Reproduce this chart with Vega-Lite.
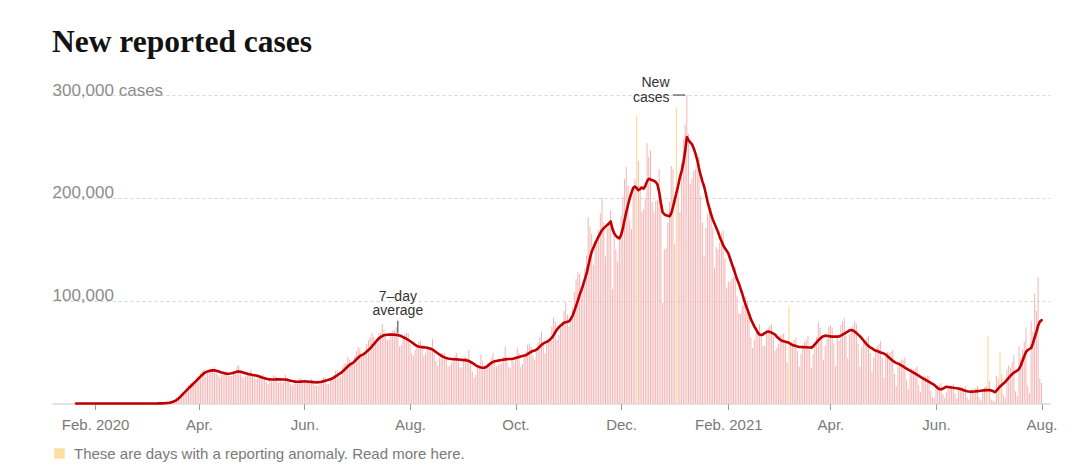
{
"$schema":"https://vega.github.io/schema/vega-lite/v6.json",
"width":998,"height":308.5,
"autosize":{"type":"none"},
"padding":{"left":52,"top":95,"right":30,"bottom":72.5},
"background":"white",
"config":{"font":"Liberation Sans","view":{"stroke":null}},
"title":{"text":"New reported cases","anchor":"start","frame":"group","font":"Liberation Serif","fontSize":31.5,"fontWeight":"bold","color":"#121212","baseline":"alphabetic","offset":8,"dy":15},
"datasets":{"days":[
{"date":"2020-01-21","cases":1,"avg":0},{"date":"2020-01-22","cases":0,"avg":0},{"date":"2020-01-23","cases":0,"avg":0},{"date":"2020-01-24","cases":1,"avg":0},{"date":"2020-01-25","cases":1,"avg":0},{"date":"2020-01-26","cases":3,"avg":1},{"date":"2020-01-27","cases":0,"avg":1},{"date":"2020-01-28","cases":0,"avg":1},{"date":"2020-01-29","cases":0,"avg":1},{"date":"2020-01-30","cases":1,"avg":1},{"date":"2020-01-31","cases":1,"avg":1},
{"date":"2020-02-01","cases":1,"avg":1},{"date":"2020-02-02","cases":2,"avg":1},{"date":"2020-02-03","cases":1,"avg":1},{"date":"2020-02-04","cases":0,"avg":1},{"date":"2020-02-05","cases":1,"avg":1},{"date":"2020-02-06","cases":0,"avg":1},{"date":"2020-02-07","cases":0,"avg":0},{"date":"2020-02-08","cases":0,"avg":0},{"date":"2020-02-09","cases":0,"avg":0},{"date":"2020-02-10","cases":1,"avg":0},{"date":"2020-02-11","cases":1,"avg":0},{"date":"2020-02-12","cases":0,"avg":0},{"date":"2020-02-13","cases":1,"avg":0},{"date":"2020-02-14","cases":0,"avg":0},{"date":"2020-02-15","cases":0,"avg":0},{"date":"2020-02-16","cases":0,"avg":0},{"date":"2020-02-17","cases":0,"avg":0},{"date":"2020-02-18","cases":0,"avg":0},{"date":"2020-02-19","cases":0,"avg":0},{"date":"2020-02-20","cases":0,"avg":0},{"date":"2020-02-21","cases":2,"avg":0},{"date":"2020-02-22","cases":0,"avg":0},{"date":"2020-02-23","cases":0,"avg":0},{"date":"2020-02-24","cases":0,"avg":0},{"date":"2020-02-25","cases":1,"avg":0},{"date":"2020-02-26","cases":1,"avg":1},{"date":"2020-02-27","cases":1,"avg":1},{"date":"2020-02-28","cases":1,"avg":1},{"date":"2020-02-29","cases":8,"avg":2},
{"date":"2020-03-01","cases":12,"avg":4},{"date":"2020-03-02","cases":17,"avg":6},{"date":"2020-03-03","cases":24,"avg":9},{"date":"2020-03-04","cases":33,"avg":13},{"date":"2020-03-05","cases":73,"avg":22},{"date":"2020-03-06","cases":86,"avg":34},{"date":"2020-03-07","cases":105,"avg":50},{"date":"2020-03-08","cases":116,"avg":65},{"date":"2020-03-09","cases":201,"avg":90},{"date":"2020-03-10","cases":272,"avg":125},{"date":"2020-03-11","cases":325,"avg":165},{"date":"2020-03-12","cases":418,"avg":215},{"date":"2020-03-13","cases":575,"avg":330},{"date":"2020-03-14","cases":691,"avg":480},{"date":"2020-03-15","cases":1100,"avg":700},{"date":"2020-03-16","cases":1600,"avg":1100},{"date":"2020-03-17","cases":2300,"avg":1700},{"date":"2020-03-18","cases":3400,"avg":2400},{"date":"2020-03-19","cases":4900,"avg":3300},{"date":"2020-03-20","cases":6400,"avg":4500},{"date":"2020-03-21","cases":7500,"avg":6000},{"date":"2020-03-22","cases":9400,"avg":7800},{"date":"2020-03-23","cases":11000,"avg":9600},{"date":"2020-03-24","cases":12000,"avg":11300},{"date":"2020-03-25","cases":14500,"avg":13000},{"date":"2020-03-26","cases":18100,"avg":14700},{"date":"2020-03-27","cases":19800,"avg":16300},{"date":"2020-03-28","cases":20000,"avg":18000},{"date":"2020-03-29","cases":19600,"avg":19700},{"date":"2020-03-30","cases":22400,"avg":21300},{"date":"2020-03-31","cases":26600,"avg":23000},
{"date":"2020-04-01","cases":26000,"avg":24600},{"date":"2020-04-02","cases":29400,"avg":26400},{"date":"2020-04-03","cases":32200,"avg":28000},{"date":"2020-04-04","cases":33400,"avg":29500},{"date":"2020-04-05","cases":25900,"avg":30500},{"date":"2020-04-06","cases":29800,"avg":31200},{"date":"2020-04-07","cases":30900,"avg":31700},{"date":"2020-04-08","cases":32300,"avg":32000},{"date":"2020-04-09","cases":34000,"avg":32200},{"date":"2020-04-10","cases":35200,"avg":32300},{"date":"2020-04-11","cases":30500,"avg":31800},{"date":"2020-04-12","cases":27800,"avg":31300},{"date":"2020-04-13","cases":25400,"avg":30800},{"date":"2020-04-14","cases":27800,"avg":30200},{"date":"2020-04-15","cases":29900,"avg":29800},{"date":"2020-04-16","cases":30800,"avg":29300},{"date":"2020-04-17","cases":31700,"avg":29000},{"date":"2020-04-18","cases":29400,"avg":29000},{"date":"2020-04-19","cases":26800,"avg":29100},{"date":"2020-04-20","cases":26700,"avg":29400},{"date":"2020-04-21","cases":28600,"avg":29900},{"date":"2020-04-22","cases":29600,"avg":30500},{"date":"2020-04-23","cases":36800,"avg":31000},{"date":"2020-04-24","cases":37100,"avg":31200},{"date":"2020-04-25","cases":32100,"avg":30900},{"date":"2020-04-26","cases":25600,"avg":30500},{"date":"2020-04-27","cases":24500,"avg":30000},{"date":"2020-04-28","cases":26600,"avg":29500},{"date":"2020-04-29","cases":28700,"avg":29000},{"date":"2020-04-30","cases":30100,"avg":28500},
{"date":"2020-05-01","cases":33000,"avg":28100},{"date":"2020-05-02","cases":28900,"avg":27700},{"date":"2020-05-03","cases":25600,"avg":27500},{"date":"2020-05-04","cases":23200,"avg":27300},{"date":"2020-05-05","cases":24500,"avg":26800},{"date":"2020-05-06","cases":27200,"avg":26200},{"date":"2020-05-07","cases":27500,"avg":25600},{"date":"2020-05-08","cases":28500,"avg":25000},{"date":"2020-05-09","cases":25500,"avg":24500},{"date":"2020-05-10","cases":20600,"avg":24000},{"date":"2020-05-11","cases":18600,"avg":23700},{"date":"2020-05-12","cases":22300,"avg":23500},{"date":"2020-05-13","cases":21500,"avg":23300},{"date":"2020-05-14","cases":27500,"avg":23300},{"date":"2020-05-15","cases":26900,"avg":23400},{"date":"2020-05-16","cases":25700,"avg":23500},{"date":"2020-05-17","cases":20100,"avg":23500},{"date":"2020-05-18","cases":21600,"avg":23500},{"date":"2020-05-19","cases":20200,"avg":23400},{"date":"2020-05-20","cases":21600,"avg":23400},{"date":"2020-05-21","cases":27800,"avg":23300},{"date":"2020-05-22","cases":25100,"avg":23000},{"date":"2020-05-23","cases":21300,"avg":22600},{"date":"2020-05-24","cases":18600,"avg":22200},{"date":"2020-05-25","cases":17600,"avg":21800},{"date":"2020-05-26","cases":18900,"avg":21500},{"date":"2020-05-27","cases":20600,"avg":21300},{"date":"2020-05-28","cases":22600,"avg":21200},{"date":"2020-05-29","cases":24200,"avg":21200},{"date":"2020-05-30","cases":24100,"avg":21300},{"date":"2020-05-31","cases":20800,"avg":21400},
{"date":"2020-06-01","cases":20500,"avg":21500},{"date":"2020-06-02","cases":20200,"avg":21400},{"date":"2020-06-03","cases":19900,"avg":21300},{"date":"2020-06-04","cases":21600,"avg":21200},{"date":"2020-06-05","cases":24100,"avg":21000},{"date":"2020-06-06","cases":21900,"avg":20800},{"date":"2020-06-07","cases":17700,"avg":20600},{"date":"2020-06-08","cases":17100,"avg":20500},{"date":"2020-06-09","cases":17800,"avg":20600},{"date":"2020-06-10","cases":20800,"avg":20900},{"date":"2020-06-11","cases":22800,"avg":21200},{"date":"2020-06-12","cases":25500,"avg":21700},{"date":"2020-06-13","cases":25300,"avg":22200},{"date":"2020-06-14","cases":19100,"avg":22600},{"date":"2020-06-15","cases":18800,"avg":23000},{"date":"2020-06-16","cases":22800,"avg":23500},{"date":"2020-06-17","cases":25100,"avg":24300},{"date":"2020-06-18","cases":27800,"avg":25200},{"date":"2020-06-19","cases":31800,"avg":26300},{"date":"2020-06-20","cases":32200,"avg":27500},{"date":"2020-06-21","cases":27100,"avg":28600},{"date":"2020-06-22","cases":26300,"avg":29700},{"date":"2020-06-23","cases":35400,"avg":31000},{"date":"2020-06-24","cases":38300,"avg":32600},{"date":"2020-06-25","cases":39400,"avg":34300},{"date":"2020-06-26","cases":45100,"avg":36000},{"date":"2020-06-27","cases":42800,"avg":37500},{"date":"2020-06-28","cases":40600,"avg":38600},{"date":"2020-06-29","cases":38800,"avg":39500},{"date":"2020-06-30","cases":45900,"avg":41000},
{"date":"2020-07-01","cases":51100,"avg":42800},{"date":"2020-07-02","cases":55300,"avg":44500},{"date":"2020-07-03","cases":53500,"avg":46000},{"date":"2020-07-04","cases":45700,"avg":47000},{"date":"2020-07-05","cases":46700,"avg":47800},{"date":"2020-07-06","cases":47400,"avg":49000},{"date":"2020-07-07","cases":58200,"avg":50500},{"date":"2020-07-08","cases":62100,"avg":52000},{"date":"2020-07-09","cases":64400,"avg":53500},{"date":"2020-07-10","cases":68600,"avg":55500},{"date":"2020-07-11","cases":64800,"avg":57500},{"date":"2020-07-12","cases":60900,"avg":59500},{"date":"2020-07-13","cases":59300,"avg":61500},{"date":"2020-07-14","cases":68200,"avg":63200},{"date":"2020-07-15","cases":68900,"avg":64600},{"date":"2020-07-16","cases":77200,"avg":65600},{"date":"2020-07-17","cases":72000,"avg":66300},{"date":"2020-07-18","cases":64500,"avg":66700},{"date":"2020-07-19","cases":61800,"avg":66900},{"date":"2020-07-20","cases":61900,"avg":67000},{"date":"2020-07-21","cases":67400,"avg":67100},{"date":"2020-07-22","cases":71000,"avg":67000},{"date":"2020-07-23","cases":71600,"avg":66900},{"date":"2020-07-24","cases":74100,"avg":66700},{"date":"2020-07-25","cases":65400,"avg":66500},{"date":"2020-07-26","cases":55500,"avg":66100},{"date":"2020-07-27","cases":56900,"avg":65400},{"date":"2020-07-28","cases":63400,"avg":64600},{"date":"2020-07-29","cases":67100,"avg":63700},{"date":"2020-07-30","cases":68700,"avg":62800},{"date":"2020-07-31","cases":68400,"avg":61900},
{"date":"2020-08-01","cases":58100,"avg":60800},{"date":"2020-08-02","cases":48800,"avg":59600},{"date":"2020-08-03","cases":45900,"avg":58300},{"date":"2020-08-04","cases":52400,"avg":57000},{"date":"2020-08-05","cases":55000,"avg":56000},{"date":"2020-08-06","cases":59900,"avg":55400},{"date":"2020-08-07","cases":61400,"avg":55000},{"date":"2020-08-08","cases":54900,"avg":54800},{"date":"2020-08-09","cases":46500,"avg":54600},{"date":"2020-08-10","cases":48600,"avg":54400},{"date":"2020-08-11","cases":53200,"avg":54200},{"date":"2020-08-12","cases":54700,"avg":53800},{"date":"2020-08-13","cases":54400,"avg":53200},{"date":"2020-08-14","cases":62800,"avg":52400},{"date":"2020-08-15","cases":53300,"avg":51300},{"date":"2020-08-16","cases":41400,"avg":50100},{"date":"2020-08-17","cases":37000,"avg":48900},{"date":"2020-08-18","cases":45000,"avg":47700},{"date":"2020-08-19","cases":48400,"avg":46600},{"date":"2020-08-20","cases":49100,"avg":45600},{"date":"2020-08-21","cases":48800,"avg":44800},{"date":"2020-08-22","cases":44600,"avg":44200},{"date":"2020-08-23","cases":35700,"avg":43800},{"date":"2020-08-24","cases":36700,"avg":43500},{"date":"2020-08-25","cases":39600,"avg":43300},{"date":"2020-08-26","cases":44200,"avg":43100},{"date":"2020-08-27","cases":46600,"avg":43000},{"date":"2020-08-28","cases":49300,"avg":42900},{"date":"2020-08-29","cases":43800,"avg":42800},{"date":"2020-08-30","cases":35500,"avg":42600},{"date":"2020-08-31","cases":35100,"avg":42400},
{"date":"2020-09-01","cases":42000,"avg":42200},{"date":"2020-09-02","cases":45300,"avg":42200},{"date":"2020-09-03","cases":44500,"avg":41900},{"date":"2020-09-04","cases":52100,"avg":41300},{"date":"2020-09-05","cases":41400,"avg":40500},{"date":"2020-09-06","cases":31200,"avg":39500},{"date":"2020-09-07","cases":24700,"avg":38400},{"date":"2020-09-08","cases":27800,"avg":37200},{"date":"2020-09-09","cases":34500,"avg":36200},{"date":"2020-09-10","cases":37800,"avg":35600},{"date":"2020-09-11","cases":47500,"avg":35100},{"date":"2020-09-12","cases":41200,"avg":34800},{"date":"2020-09-13","cases":34100,"avg":34800},{"date":"2020-09-14","cases":34200,"avg":35500},{"date":"2020-09-15","cases":39500,"avg":36800},{"date":"2020-09-16","cases":39400,"avg":38200},{"date":"2020-09-17","cases":44600,"avg":39500},{"date":"2020-09-18","cases":48800,"avg":40500},{"date":"2020-09-19","cases":42100,"avg":41100},{"date":"2020-09-20","cases":36100,"avg":41400},{"date":"2020-09-21","cases":37100,"avg":41700},{"date":"2020-09-22","cases":39200,"avg":42000},{"date":"2020-09-23","cases":39000,"avg":42300},{"date":"2020-09-24","cases":45300,"avg":42600},{"date":"2020-09-25","cases":55500,"avg":42900},{"date":"2020-09-26","cases":46000,"avg":43100},{"date":"2020-09-27","cases":35400,"avg":43200},{"date":"2020-09-28","cases":34000,"avg":43300},{"date":"2020-09-29","cases":42900,"avg":43400},{"date":"2020-09-30","cases":40000,"avg":43800},
{"date":"2020-10-01","cases":45800,"avg":44300},{"date":"2020-10-02","cases":54800,"avg":44800},{"date":"2020-10-03","cases":49000,"avg":45300},{"date":"2020-10-04","cases":35300,"avg":45800},{"date":"2020-10-05","cases":38500,"avg":46200},{"date":"2020-10-06","cases":45400,"avg":46600},{"date":"2020-10-07","cases":50600,"avg":47000},{"date":"2020-10-08","cases":57100,"avg":48000},{"date":"2020-10-09","cases":58400,"avg":49300},{"date":"2020-10-10","cases":54900,"avg":50300},{"date":"2020-10-11","cases":46300,"avg":51000},{"date":"2020-10-12","cases":41800,"avg":51600},{"date":"2020-10-13","cases":50600,"avg":52300},{"date":"2020-10-14","cases":59400,"avg":53600},{"date":"2020-10-15","cases":64200,"avg":55300},{"date":"2020-10-16","cases":70100,"avg":57000},{"date":"2020-10-17","cases":56900,"avg":58300},{"date":"2020-10-18","cases":48900,"avg":59200},{"date":"2020-10-19","cases":58400,"avg":60000},{"date":"2020-10-20","cases":60100,"avg":61000},{"date":"2020-10-21","cases":62600,"avg":62300},{"date":"2020-10-22","cases":75000,"avg":64000},{"date":"2020-10-23","cases":83700,"avg":66500},{"date":"2020-10-24","cases":79700,"avg":69500},{"date":"2020-10-25","cases":62000,"avg":72000},{"date":"2020-10-26","cases":66700,"avg":74000},{"date":"2020-10-27","cases":74000,"avg":75800},{"date":"2020-10-28","cases":79100,"avg":77000},{"date":"2020-10-29","cases":90000,"avg":78500},{"date":"2020-10-30","cases":99000,"avg":79000},{"date":"2020-10-31","cases":86300,"avg":79500},
{"date":"2020-11-01","cases":75000,"avg":80000},{"date":"2020-11-02","cases":84600,"avg":82500},{"date":"2020-11-03","cases":93100,"avg":85500},{"date":"2020-11-04","cases":108300,"avg":90000},{"date":"2020-11-05","cases":121000,"avg":95000},{"date":"2020-11-06","cases":128000,"avg":100000},{"date":"2020-11-07","cases":125800,"avg":105500},{"date":"2020-11-08","cases":106000,"avg":110000},{"date":"2020-11-09","cases":118900,"avg":115000},{"date":"2020-11-10","cases":131000,"avg":120500},{"date":"2020-11-11","cases":144000,"avg":126000},{"date":"2020-11-12","cases":181000,"avg":133500},{"date":"2020-11-13","cases":172000,"avg":141000},{"date":"2020-11-14","cases":165000,"avg":147500},{"date":"2020-11-15","cases":135000,"avg":151500},{"date":"2020-11-16","cases":158000,"avg":155500},{"date":"2020-11-17","cases":157000,"avg":159000},{"date":"2020-11-18","cases":169000,"avg":162500},{"date":"2020-11-19","cases":185000,"avg":165500},{"date":"2020-11-20","cases":200000,"avg":168500},{"date":"2020-11-21","cases":176000,"avg":170500},{"date":"2020-11-22","cases":143000,"avg":172000},{"date":"2020-11-23","cases":171000,"avg":173500},{"date":"2020-11-24","cases":174000,"avg":175000},{"date":"2020-11-25","cases":188000,"avg":177000},{"date":"2020-11-26","cases":111000,"avg":170000},{"date":"2020-11-27","cases":164000,"avg":165500},{"date":"2020-11-28","cases":150000,"avg":163000},{"date":"2020-11-29","cases":138000,"avg":161500},{"date":"2020-11-30","cases":160000,"avg":160500},
{"date":"2020-12-01","cases":183000,"avg":164000},{"date":"2020-12-02","cases":201000,"avg":170000},{"date":"2020-12-03","cases":218000,"avg":178500},{"date":"2020-12-04","cases":230000,"avg":186000},{"date":"2020-12-05","cases":212000,"avg":193000},{"date":"2020-12-06","cases":178000,"avg":199500},{"date":"2020-12-07","cases":170000,"avg":205000},{"date":"2020-12-08","cases":205000,"avg":209500},{"date":"2020-12-09","cases":218000,"avg":211000},{"date":"2020-12-10","cases":280000,"avg":209500,"anomaly":"yes"},{"date":"2020-12-11","cases":236000,"avg":207500},{"date":"2020-12-12","cases":212000,"avg":208500},{"date":"2020-12-13","cases":186000,"avg":210000},{"date":"2020-12-14","cases":189000,"avg":209000},{"date":"2020-12-15","cases":200000,"avg":211500},{"date":"2020-12-16","cases":253000,"avg":216000},{"date":"2020-12-17","cases":240000,"avg":218500},{"date":"2020-12-18","cases":246000,"avg":218000},{"date":"2020-12-19","cases":196000,"avg":217000},{"date":"2020-12-20","cases":186000,"avg":216500},{"date":"2020-12-21","cases":197000,"avg":215500},{"date":"2020-12-22","cases":198000,"avg":213000},{"date":"2020-12-23","cases":228000,"avg":206000},{"date":"2020-12-24","cases":195000,"avg":195000},{"date":"2020-12-25","cases":98000,"avg":186000},{"date":"2020-12-26","cases":150000,"avg":184000},{"date":"2020-12-27","cases":151000,"avg":183000},{"date":"2020-12-28","cases":176000,"avg":182500},{"date":"2020-12-29","cases":196000,"avg":182000},{"date":"2020-12-30","cases":231000,"avg":185000},{"date":"2020-12-31","cases":228000,"avg":191000},
{"date":"2021-01-01","cases":155000,"avg":198000},{"date":"2021-01-02","cases":288000,"avg":205000,"anomaly":"yes"},{"date":"2021-01-03","cases":209000,"avg":212000},{"date":"2021-01-04","cases":186000,"avg":220000},{"date":"2021-01-05","cases":234000,"avg":226000},{"date":"2021-01-06","cases":257000,"avg":234000},{"date":"2021-01-07","cases":271000,"avg":245000},{"date":"2021-01-08","cases":300000,"avg":259000},{"date":"2021-01-09","cases":262000,"avg":256000},{"date":"2021-01-10","cases":214000,"avg":254000},{"date":"2021-01-11","cases":219000,"avg":252000},{"date":"2021-01-12","cases":226000,"avg":248000},{"date":"2021-01-13","cases":228000,"avg":243000},{"date":"2021-01-14","cases":234000,"avg":237000},{"date":"2021-01-15","cases":240000,"avg":229000},{"date":"2021-01-16","cases":202000,"avg":222000},{"date":"2021-01-17","cases":176000,"avg":216000},{"date":"2021-01-18","cases":143000,"avg":211000},{"date":"2021-01-19","cases":171000,"avg":204000},{"date":"2021-01-20","cases":184000,"avg":196000},{"date":"2021-01-21","cases":194000,"avg":190000},{"date":"2021-01-22","cases":190000,"avg":184000},{"date":"2021-01-23","cases":171000,"avg":179000},{"date":"2021-01-24","cases":132000,"avg":175000},{"date":"2021-01-25","cases":152000,"avg":171000},{"date":"2021-01-26","cases":150000,"avg":167000},{"date":"2021-01-27","cases":156000,"avg":162000},{"date":"2021-01-28","cases":166000,"avg":158000},{"date":"2021-01-29","cases":168000,"avg":154000},{"date":"2021-01-30","cases":141000,"avg":151000},{"date":"2021-01-31","cases":112000,"avg":148500},
{"date":"2021-02-01","cases":119000,"avg":146000},{"date":"2021-02-02","cases":118000,"avg":141000},{"date":"2021-02-03","cases":121000,"avg":136000},{"date":"2021-02-04","cases":123000,"avg":131000},{"date":"2021-02-05","cases":133000,"avg":126000},{"date":"2021-02-06","cases":104000,"avg":121000},{"date":"2021-02-07","cases":88000,"avg":117000},{"date":"2021-02-08","cases":87000,"avg":112000},{"date":"2021-02-09","cases":95000,"avg":107000},{"date":"2021-02-10","cases":96000,"avg":101000},{"date":"2021-02-11","cases":104000,"avg":96000},{"date":"2021-02-12","cases":100000,"avg":91500},{"date":"2021-02-13","cases":85000,"avg":87000},{"date":"2021-02-14","cases":64000,"avg":82000},{"date":"2021-02-15","cases":54000,"avg":78500},{"date":"2021-02-16","cases":62000,"avg":75000},{"date":"2021-02-17","cases":68000,"avg":72000},{"date":"2021-02-18","cases":69000,"avg":69000},{"date":"2021-02-19","cases":77000,"avg":67000},{"date":"2021-02-20","cases":68000,"avg":66500},{"date":"2021-02-21","cases":56000,"avg":67000},{"date":"2021-02-22","cases":56000,"avg":68500},{"date":"2021-02-23","cases":71000,"avg":69500},{"date":"2021-02-24","cases":74000,"avg":70000},{"date":"2021-02-25","cases":76000,"avg":69500},{"date":"2021-02-26","cases":77000,"avg":69000},{"date":"2021-02-27","cases":65000,"avg":68000},{"date":"2021-02-28","cases":51000,"avg":67000},
{"date":"2021-03-01","cases":54000,"avg":65000},{"date":"2021-03-02","cases":58000,"avg":63500},{"date":"2021-03-03","cases":66000,"avg":62000},{"date":"2021-03-04","cases":67000,"avg":61000},{"date":"2021-03-05","cases":68000,"avg":60500},{"date":"2021-03-06","cases":60000,"avg":60000},{"date":"2021-03-07","cases":40000,"avg":59500},{"date":"2021-03-08","cases":94000,"avg":59000,"anomaly":"yes"},{"date":"2021-03-09","cases":57000,"avg":58000},{"date":"2021-03-10","cases":58000,"avg":57000},{"date":"2021-03-11","cases":62000,"avg":56500},{"date":"2021-03-12","cases":64000,"avg":56000},{"date":"2021-03-13","cases":51000,"avg":55300},{"date":"2021-03-14","cases":36000,"avg":55000},{"date":"2021-03-15","cases":48000,"avg":55000},{"date":"2021-03-16","cases":54000,"avg":54800},{"date":"2021-03-17","cases":60000,"avg":54800},{"date":"2021-03-18","cases":62000,"avg":54700},{"date":"2021-03-19","cases":66000,"avg":54500},{"date":"2021-03-20","cases":52000,"avg":54400},{"date":"2021-03-21","cases":35000,"avg":54300},{"date":"2021-03-22","cases":48000,"avg":55500},{"date":"2021-03-23","cases":55000,"avg":57500},{"date":"2021-03-24","cases":65000,"avg":59500},{"date":"2021-03-25","cases":79000,"avg":61500},{"date":"2021-03-26","cases":74000,"avg":63000},{"date":"2021-03-27","cases":62000,"avg":64500},{"date":"2021-03-28","cases":42000,"avg":65500},{"date":"2021-03-29","cases":56000,"avg":66000},{"date":"2021-03-30","cases":63000,"avg":65800},{"date":"2021-03-31","cases":75000,"avg":65500},
{"date":"2021-04-01","cases":76000,"avg":65300},{"date":"2021-04-02","cases":74000,"avg":65000},{"date":"2021-04-03","cases":58000,"avg":65200},{"date":"2021-04-04","cases":36000,"avg":65000},{"date":"2021-04-05","cases":64000,"avg":65000},{"date":"2021-04-06","cases":61000,"avg":65300},{"date":"2021-04-07","cases":76000,"avg":66000},{"date":"2021-04-08","cases":80000,"avg":67000},{"date":"2021-04-09","cases":83000,"avg":68000},{"date":"2021-04-10","cases":66000,"avg":69000},{"date":"2021-04-11","cases":44000,"avg":70000},{"date":"2021-04-12","cases":67000,"avg":71000},{"date":"2021-04-13","cases":73000,"avg":71500},{"date":"2021-04-14","cases":76000,"avg":71000},{"date":"2021-04-15","cases":80000,"avg":70000},{"date":"2021-04-16","cases":77000,"avg":68500},{"date":"2021-04-17","cases":58000,"avg":67000},{"date":"2021-04-18","cases":36000,"avg":65500},{"date":"2021-04-19","cases":55000,"avg":63500},{"date":"2021-04-20","cases":62000,"avg":61500},{"date":"2021-04-21","cases":62000,"avg":59500},{"date":"2021-04-22","cases":64000,"avg":57500},{"date":"2021-04-23","cases":66000,"avg":56000},{"date":"2021-04-24","cases":49000,"avg":54500},{"date":"2021-04-25","cases":31000,"avg":53500},{"date":"2021-04-26","cases":45000,"avg":52500},{"date":"2021-04-27","cases":52000,"avg":51500},{"date":"2021-04-28","cases":56000,"avg":51000},{"date":"2021-04-29","cases":58000,"avg":50300},{"date":"2021-04-30","cases":61000,"avg":49500},
{"date":"2021-05-01","cases":44000,"avg":49000},{"date":"2021-05-02","cases":25000,"avg":48500},{"date":"2021-05-03","cases":46000,"avg":47500},{"date":"2021-05-04","cases":50000,"avg":46000},{"date":"2021-05-05","cases":49000,"avg":44500},{"date":"2021-05-06","cases":50000,"avg":43000},{"date":"2021-05-07","cases":52000,"avg":41500},{"date":"2021-05-08","cases":29000,"avg":40500},{"date":"2021-05-09","cases":17000,"avg":39500},{"date":"2021-05-10","cases":36000,"avg":38800},{"date":"2021-05-11","cases":41000,"avg":38000},{"date":"2021-05-12","cases":43000,"avg":37000},{"date":"2021-05-13","cases":42000,"avg":36000},{"date":"2021-05-14","cases":45000,"avg":35000},{"date":"2021-05-15","cases":23000,"avg":34000},{"date":"2021-05-16","cases":14000,"avg":33000},{"date":"2021-05-17","cases":30000,"avg":32000},{"date":"2021-05-18","cases":34000,"avg":31000},{"date":"2021-05-19","cases":33000,"avg":30000},{"date":"2021-05-20","cases":34000,"avg":29000},{"date":"2021-05-21","cases":36000,"avg":28000},{"date":"2021-05-22","cases":18000,"avg":27000},{"date":"2021-05-23","cases":11000,"avg":26000},{"date":"2021-05-24","cases":25000,"avg":25000},{"date":"2021-05-25","cases":27000,"avg":24000},{"date":"2021-05-26","cases":26000,"avg":23000},{"date":"2021-05-27","cases":27000,"avg":22000},{"date":"2021-05-28","cases":27000,"avg":21000},{"date":"2021-05-29","cases":12000,"avg":20000},{"date":"2021-05-30","cases":6000,"avg":19000},{"date":"2021-05-31","cases":5000,"avg":18000},
{"date":"2021-06-01","cases":15000,"avg":16500},{"date":"2021-06-02","cases":17000,"avg":15000},{"date":"2021-06-03","cases":18000,"avg":14000},{"date":"2021-06-04","cases":20000,"avg":13800},{"date":"2021-06-05","cases":9000,"avg":14500},{"date":"2021-06-06","cases":5000,"avg":15500},{"date":"2021-06-07","cases":11000,"avg":16300},{"date":"2021-06-08","cases":17000,"avg":16000},{"date":"2021-06-09","cases":18000,"avg":15800},{"date":"2021-06-10","cases":17000,"avg":15500},{"date":"2021-06-11","cases":19000,"avg":15300},{"date":"2021-06-12","cases":10000,"avg":15000},{"date":"2021-06-13","cases":5000,"avg":14800},{"date":"2021-06-14","cases":13000,"avg":14500},{"date":"2021-06-15","cases":14000,"avg":14000},{"date":"2021-06-16","cases":16000,"avg":13500},{"date":"2021-06-17","cases":15000,"avg":13000},{"date":"2021-06-18","cases":17000,"avg":12500},{"date":"2021-06-19","cases":6000,"avg":12000},{"date":"2021-06-20","cases":4000,"avg":11600},{"date":"2021-06-21","cases":12000,"avg":11500},{"date":"2021-06-22","cases":14000,"avg":11500},{"date":"2021-06-23","cases":14000,"avg":11600},{"date":"2021-06-24","cases":15000,"avg":11800},{"date":"2021-06-25","cases":17000,"avg":12000},{"date":"2021-06-26","cases":6000,"avg":12200},{"date":"2021-06-27","cases":3000,"avg":12400},{"date":"2021-06-28","cases":14000,"avg":12600},{"date":"2021-06-29","cases":16000,"avg":12800},{"date":"2021-06-30","cases":17000,"avg":13000},
{"date":"2021-07-01","cases":65600,"avg":13000,"anomaly":"yes"},{"date":"2021-07-02","cases":22000,"avg":13000},{"date":"2021-07-03","cases":4000,"avg":12600},{"date":"2021-07-04","cases":3000,"avg":12000},{"date":"2021-07-05","cases":2000,"avg":11000},{"date":"2021-07-06","cases":27000,"avg":12500},{"date":"2021-07-07","cases":24000,"avg":14500},{"date":"2021-07-08","cases":50000,"avg":16500,"anomaly":"yes"},{"date":"2021-07-09","cases":29000,"avg":18000},{"date":"2021-07-10","cases":8000,"avg":19500},{"date":"2021-07-11","cases":5000,"avg":21000},{"date":"2021-07-12","cases":33000,"avg":23000},{"date":"2021-07-13","cases":37000,"avg":25000},{"date":"2021-07-14","cases":35000,"avg":27000},{"date":"2021-07-15","cases":40000,"avg":28500},{"date":"2021-07-16","cases":47000,"avg":30000},{"date":"2021-07-17","cases":12000,"avg":31000},{"date":"2021-07-18","cases":7000,"avg":32000},{"date":"2021-07-19","cases":56000,"avg":33500},{"date":"2021-07-20","cases":45000,"avg":37000},{"date":"2021-07-21","cases":53000,"avg":41500},{"date":"2021-07-22","cases":60000,"avg":46000},{"date":"2021-07-23","cases":74000,"avg":50000},{"date":"2021-07-24","cases":17000,"avg":52000},{"date":"2021-07-25","cases":10000,"avg":53000},{"date":"2021-07-26","cases":80000,"avg":54000},{"date":"2021-07-27","cases":70000,"avg":58500},{"date":"2021-07-28","cases":107000,"avg":64000},{"date":"2021-07-29","cases":90000,"avg":69500},{"date":"2021-07-30","cases":123000,"avg":75500},{"date":"2021-07-31","cases":24000,"avg":79500},
{"date":"2021-08-01","cases":20000,"avg":81000}
]},
"layer":[
{"data":{"name":"days"},"transform":[{"filter":"!isValid(datum.anomaly)"}],
 "mark":{"type":"bar","width":1,"color":"#f4b4b4"},
 "encoding":{
  "x":{"field":"date","type":"temporal","scale":{"type":"utc","domain":[{"year":2020,"month":1,"date":10,"utc":true},{"year":2021,"month":8,"date":3,"utc":true}]},
   "axis":{"title":null,"values":[{"year":2020,"month":2,"date":1,"utc":true},{"year":2020,"month":4,"date":1,"utc":true},{"year":2020,"month":6,"date":1,"utc":true},{"year":2020,"month":8,"date":1,"utc":true},{"year":2020,"month":10,"date":1,"utc":true},{"year":2020,"month":12,"date":1,"utc":true},{"year":2021,"month":2,"date":1,"utc":true},{"year":2021,"month":4,"date":1,"utc":true},{"year":2021,"month":6,"date":1,"utc":true},{"year":2021,"month":8,"date":1,"utc":true}],
    "labelExpr":"utcFormat(datum.value, '%b') + '.' + (utcmonth(datum.value) == 1 ? ' ' + utcFormat(datum.value, '%Y') : '')",
    "grid":false,"domain":true,"domainColor":"#c8c8c8","ticks":true,"tickColor":"#999999","tickSize":6,"labelFontSize":15,"labelColor":"#7a7a7a","labelBaseline":"alphabetic","labelPadding":19.5,"labelDx":8,"labelAlign":"center","labelFlush":false,"labelOverlap":false}},
  "y":{"field":"cases","type":"quantitative","scale":{"domain":[0,300000],"nice":false,"zero":true},
   "axis":{"title":null,"values":[100000,200000,300000],"labelExpr":"format(datum.value, ',') + (datum.value == 300000 ? ' cases' : '')",
    "domain":false,"ticks":false,"tickSize":0,"labelAlign":"left","labelBaseline":"alphabetic","labelPadding":0,"labelDy":-3,"labelFontSize":17,"labelColor":"#8c8c8c","grid":true,"gridColor":"#d6d6d6","gridDash":[3,3],"labelFlush":false,"labelOverlap":false}}}},
{"data":{"name":"days"},"transform":[{"filter":"isValid(datum.anomaly)"}],
 "mark":{"type":"bar","width":1.3},
 "encoding":{
  "x":{"field":"date","type":"temporal","scale":{"type":"utc"},"axis":{"title":null}},
  "y":{"field":"cases","type":"quantitative","axis":{"title":null}},
  "color":{"field":"anomaly","type":"nominal","scale":{"domain":["yes"],"range":["#fcdfa0"]},
   "legend":{"orient":"none","legendX":0,"legendY":351,"title":null,"direction":"vertical","symbolType":"square","symbolSize":110,"symbolStrokeWidth":0,"symbolOpacity":1,"labelFontSize":15,"labelColor":"#7a7a7a","labelOffset":7,"padding":0,"labelLimit":700,"labelExpr":"'These are days with a reporting anomaly. Read more here.'"}}}},
{"data":{"name":"days"},
 "mark":{"type":"line","color":"#c00000","strokeWidth":2.6,"strokeJoin":"round","strokeCap":"round"},
 "encoding":{
  "x":{"field":"date","type":"temporal","scale":{"type":"utc"},"axis":{"title":null}},
  "y":{"field":"avg","type":"quantitative","axis":{"title":null}}}},
{"data":{"values":[{"date":"2020-07-25","low":68500,"high":80500}]},
 "mark":{"type":"rule","color":"#333333","strokeWidth":1},
 "encoding":{
  "x":{"field":"date","type":"temporal","scale":{"type":"utc"},"axis":{"title":null}},
  "y":{"field":"low","type":"quantitative","axis":{"title":null}},
  "y2":{"field":"high"}}},
{"data":{"values":[{"start":"2020-12-31","end":"2021-01-07","cases":300000}]},
 "mark":{"type":"rule","color":"#333333","strokeWidth":1},
 "encoding":{
  "x":{"field":"start","type":"temporal","scale":{"type":"utc"},"axis":{"title":null}},
  "x2":{"field":"end"},
  "y":{"field":"cases","type":"quantitative","axis":{"title":null}}}},
{"data":{"values":[{"date":"2020-07-25","cases":100000,"note":"7–day|average"}]},
 "mark":{"type":"text","align":"center","baseline":"alphabetic","lineBreak":"|","fontSize":14,"lineHeight":14.4,"color":"#333333"},
 "encoding":{
  "x":{"field":"date","type":"temporal","scale":{"type":"utc"},"axis":{"title":null}},
  "y":{"field":"cases","type":"quantitative","axis":{"title":null}},
  "text":{"field":"note"}}},
{"data":{"values":[{"date":"2020-12-29","cases":307500,"note":"New|cases"}]},
 "mark":{"type":"text","align":"right","baseline":"alphabetic","lineBreak":"|","fontSize":14,"lineHeight":14.4,"color":"#333333"},
 "encoding":{
  "x":{"field":"date","type":"temporal","scale":{"type":"utc"},"axis":{"title":null}},
  "y":{"field":"cases","type":"quantitative","axis":{"title":null}},
  "text":{"field":"note"}}}
]
}
